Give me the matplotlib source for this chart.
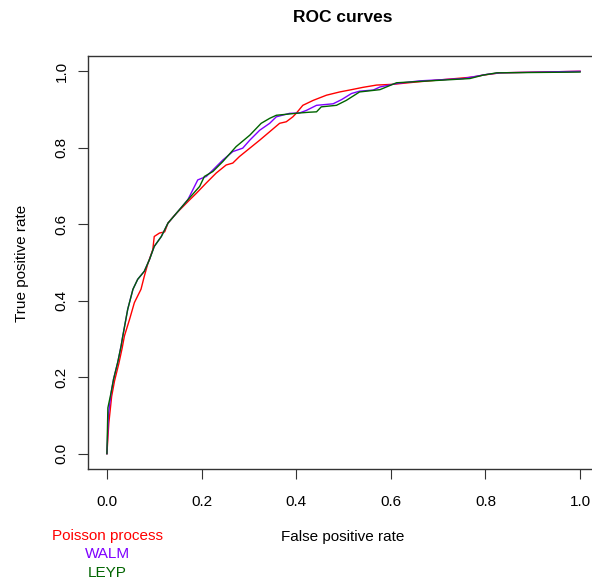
import matplotlib
matplotlib.use("Agg")
import matplotlib.pyplot as plt

plt.rcParams['font.family'] = ['Liberation Sans', 'DejaVu Sans']

# ROC curve points (false positive rate, true positive rate)
poisson_fpr = [0.0, 0.004, 0.010, 0.016, 0.025, 0.032, 0.037, 0.048, 0.058, 0.072, 0.079,
               0.086, 0.097, 0.100, 0.111, 0.122, 0.129, 0.147, 0.175, 0.189, 0.210,
               0.231, 0.252, 0.266, 0.280, 0.302, 0.323, 0.344, 0.365, 0.379, 0.393,
               0.400, 0.414, 0.436, 0.464, 0.492, 0.513, 0.541, 0.570, 0.605, 0.654,
               0.718, 0.774, 0.795, 0.831, 1.0]
poisson_tpr = [0.0, 0.08, 0.15, 0.19, 0.235, 0.275, 0.308, 0.352, 0.395, 0.430, 0.464,
               0.495, 0.534, 0.568, 0.577, 0.580, 0.603, 0.629, 0.664, 0.681, 0.708,
               0.734, 0.755, 0.760, 0.777, 0.799, 0.820, 0.842, 0.864, 0.868, 0.881,
               0.890, 0.911, 0.924, 0.9375, 0.946, 0.951, 0.958, 0.964, 0.966, 0.972,
               0.979, 0.985, 0.990, 0.996, 1.0]

walm_fpr = [0.0, 0.003, 0.009, 0.014, 0.023, 0.030, 0.033, 0.044, 0.055, 0.065, 0.079,
            0.090, 0.100, 0.115, 0.129, 0.147, 0.171, 0.192, 0.210, 0.224, 0.245,
            0.266, 0.287, 0.302, 0.323, 0.344, 0.358, 0.386, 0.407, 0.422, 0.443,
            0.478, 0.496, 0.517, 0.534, 0.563, 0.577, 0.612, 0.661, 0.753, 0.803,
            0.831, 1.0]
walm_tpr = [0.0, 0.10, 0.161, 0.195, 0.24, 0.282, 0.304, 0.378, 0.430, 0.456, 0.477,
            0.508, 0.542, 0.568, 0.603, 0.629, 0.664, 0.716, 0.725, 0.742, 0.768,
            0.790, 0.799, 0.820, 0.846, 0.864, 0.881, 0.890, 0.891, 0.898, 0.911,
            0.915, 0.926, 0.942, 0.948, 0.951, 0.959, 0.968, 0.975, 0.981, 0.992,
            0.996, 1.0]

leyp_fpr = [0.0, 0.002, 0.009, 0.014, 0.023, 0.030, 0.033, 0.044, 0.055, 0.065, 0.079,
            0.090, 0.100, 0.115, 0.129, 0.147, 0.171, 0.196, 0.206, 0.224, 0.245,
            0.273, 0.302, 0.326, 0.344, 0.358, 0.407, 0.428, 0.443, 0.453, 0.485,
            0.506, 0.534, 0.577, 0.612, 0.668, 0.767, 0.795, 0.824, 1.0]
leyp_tpr = [0.0, 0.12, 0.161, 0.195, 0.24, 0.282, 0.304, 0.378, 0.430, 0.456, 0.477,
            0.508, 0.542, 0.568, 0.603, 0.629, 0.664, 0.699, 0.725, 0.738, 0.764,
            0.803, 0.833, 0.864, 0.877, 0.885, 0.891, 0.893, 0.894, 0.907, 0.911,
            0.924, 0.946, 0.952, 0.970, 0.974, 0.981, 0.990, 0.996, 0.998]

labels = ["Poisson process", "WALM", "LEYP"]
colors = ["#FF0000", "#7F00FF", "#006400"]
ticks = [0.0, 0.2, 0.4, 0.6, 0.8, 1.0]

fig = plt.figure(figsize=(5.92, 5.83), dpi=100)
ax = fig.add_axes([88 / 592, 1 - 469 / 583, 511 / 592, 413 / 583])

for fpr, tpr, c in zip([poisson_fpr, walm_fpr, leyp_fpr],
                       [poisson_tpr, walm_tpr, leyp_tpr], colors):
    ax.plot(fpr, tpr, color=c, lw=1.0)

ax.set_xlim(-0.04, 1.04)
ax.set_ylim(-0.04, 1.04)
ax.set_xticks(ticks)
ax.set_yticks(ticks)
ax.set_xticklabels([f"{t:.1f}" for t in ticks], fontsize=11)
ax.set_yticklabels([f"{t:.1f}" for t in ticks], fontsize=11, rotation=90, va="center")
ax.tick_params(direction="out", length=7, width=0.8, color="#333333")
ax.tick_params(axis="x", pad=12)
ax.tick_params(axis="y", pad=7)
for s in ax.spines.values():
    s.set_linewidth(1.0)
    s.set_color("#333333")

fig.text(343 / 592, 1 - 18 / 583, "ROC curves", ha="center", va="center",
         fontsize=12.5, fontweight="bold")
fig.text(343 / 592, 1 - 537 / 583, "False positive rate", ha="center", va="center",
         fontsize=11)
fig.text(22 / 592, 1 - 263 / 583, "True positive rate", ha="center", va="center",
         fontsize=11, rotation=90)

for i, (lab, c) in enumerate(zip(labels, colors)):
    fig.text(107 / 592, 1 - (536 + 18.5 * i) / 583, lab, color=c, ha="center",
             va="center", fontsize=11)

fig.savefig("out.png", dpi=100)
